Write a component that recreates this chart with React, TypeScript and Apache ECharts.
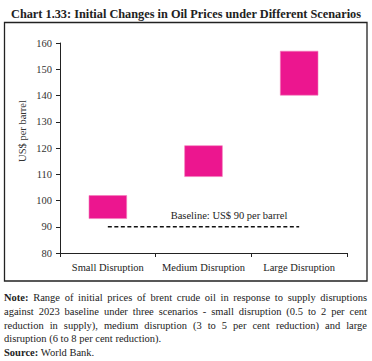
import React, { useEffect, useRef } from "react";
import * as echarts from "echarts";

const categories = ["Small Disruption", "Medium Disruption", "Large Disruption"];
const lowValues = [93, 109, 140];
const highValues = [102, 121, 157];
const baselineValues = [90, 90, 90];
const yTicks = { min: 80, max: 160, interval: 10 };

const noteLines = [
  "Range of initial prices of brent crude oil in response to supply disruptions",
  "against 2023 baseline under three scenarios - small disruption (0.5 to 2 per cent",
  "reduction in supply), medium disruption (3 to 5 per cent reduction) and large",
  "disruption (6 to 8 per cent reduction).",
];

const SERIF = "'Liberation Serif', 'DejaVu Serif', serif";

export default function App() {
  const ref = useRef<HTMLDivElement>(null);
  useEffect(() => {
    if (!ref.current) return;
    const chart = echarts.init(ref.current, undefined, { renderer: "svg" });
    const rangeValues = highValues.map((h, i) => h - lowValues[i]);
    chart.setOption({
      animation: false,
      title: {
        text: "Chart 1.33: Initial Changes in Oil Prices under Different Scenarios",
        left: "center",
        top: 3,
        textStyle: { fontFamily: SERIF, fontSize: 12.3, fontWeight: "bold", color: "#222" },
      },
      graphic: [
        {
          type: "rect",
          shape: { x: 4.5, y: 22.5, width: 362.5, height: 258.5 },
          style: { fill: "none", stroke: "#222", lineWidth: 1.3 },
          silent: true,
        },
        {
          type: "text",
          x: 22,
          y: 131,
          rotation: Math.PI / 2,
          style: {
            text: "US$ per barrel",
            fontFamily: SERIF,
            fontSize: 10.5,
            fill: "#333",
            align: "center",
            verticalAlign: "middle",
          },
        },
        {
          type: "text",
          x: 229,
          y: 215,
          style: {
            text: "Baseline: US$ 90 per barrel",
            fontFamily: SERIF,
            fontSize: 10.5,
            fill: "#222",
            align: "center",
            verticalAlign: "middle",
          },
        },
      ],
      grid: { left: 60, right: 25, top: 43, bottom: 108 },
      xAxis: {
        type: "category",
        data: categories,
        axisLine: { lineStyle: { color: "#222", width: 1 } },
        axisTick: { show: true, length: 4, lineStyle: { color: "#222" } },
        axisLabel: { fontFamily: SERIF, fontSize: 10.5, color: "#222", margin: 9, interval: 0 },
      },
      yAxis: {
        type: "value",
        min: yTicks.min,
        max: yTicks.max,
        interval: yTicks.interval,
        axisLine: { show: true, lineStyle: { color: "#222", width: 1 } },
        axisTick: { show: true, length: 4, lineStyle: { color: "#222" } },
        splitLine: { show: false },
        axisLabel: { fontFamily: SERIF, fontSize: 10.5, color: "#333", margin: 8 },
      },
      series: [
        {
          type: "bar",
          stack: "range",
          data: lowValues,
          barWidth: "40%",
          itemStyle: { color: "transparent" },
          silent: true,
        },
        {
          type: "bar",
          stack: "range",
          data: rangeValues,
          barWidth: "40%",
          itemStyle: { color: "#EC168F", borderColor: "#F37BB8", borderWidth: 0.6 },
        },
        {
          type: "line",
          data: baselineValues,
          symbol: "none",
          lineStyle: { color: "#111", width: 1.6, type: [4, 2.5] },
        },
      ],
    });
    return () => chart.dispose();
  }, []);

  return (
    <div style={{ position: "absolute", left: 0, top: 0, width: 372, height: 361, background: "#fff" }}>
      <div ref={ref} style={{ position: "absolute", left: 0, top: 0, width: 372, height: 361 }} />
      <div
        style={{
          position: "absolute",
          left: 4,
          top: 291,
          width: 363,
          fontFamily: SERIF,
          fontSize: 10.5,
          lineHeight: "13.8px",
          color: "#222",
        }}
      >
        {noteLines.map((line, i) => (
          <div
            key={i}
            style={{
              textAlign: "justify",
              textAlignLast: i < noteLines.length - 1 ? "justify" : "left",
              whiteSpace: "nowrap",
            }}
          >
            {i === 0 ? <b>Note: </b> : null}
            {line}
          </div>
        ))}
        <div>
          <b>Source: </b>World Bank.
        </div>
      </div>
    </div>
  );
}
